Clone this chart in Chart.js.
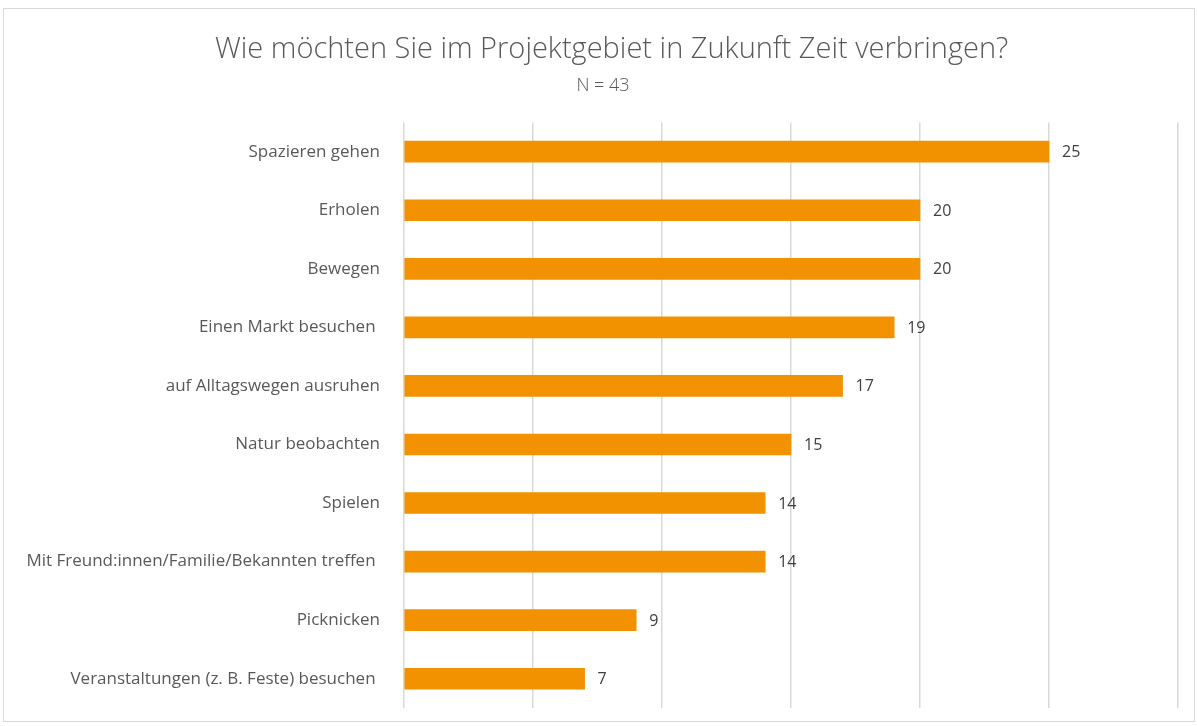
<!DOCTYPE html>
<html>
<head>
<meta charset="utf-8">
<script src="https://cdn.jsdelivr.net/npm/chart.js@4"></script>
<style>
  html, body { margin: 0; padding: 0; background: #fff; }
  #wrap { position: relative; width: 1197px; height: 726px; }
  #frame { position: absolute; left: 3px; top: 8px; width: 1190px; height: 712px; border: 1px solid #d9d9d9; pointer-events: none; }
</style>
</head>
<body>
<div id="wrap">
  <canvas id="chart" width="1197" height="726"></canvas>
  <div id="frame"></div>
</div>
<script>
// data
const categories = [
  "Spazieren gehen",
  "Erholen",
  "Bewegen",
  "Einen Markt besuchen ",
  "auf Alltagswegen ausruhen",
  "Natur beobachten",
  "Spielen",
  "Mit Freund:innen/Familie/Bekannten treffen ",
  "Picknicken",
  "Veranstaltungen (z. B. Feste) besuchen "
];
const counts = [25, 20, 20, 19, 17, 15, 14, 14, 9, 7];
const titleText = "      Wie möchten Sie im Projektgebiet in Zukunft Zeit verbringen?";
const subtitleText = "      N = 43";

// value labels at the end of each bar
const valueLabels = {
  id: "valueLabels",
  afterDatasetsDraw(chart) {
    const ctx = chart.ctx;
    const meta = chart.getDatasetMeta(0);
    ctx.save();
    ctx.font = "16px 'Open Sans'";
    ctx.fillStyle = "#404040";
    ctx.textAlign = "left";
    ctx.textBaseline = "middle";
    meta.data.forEach((bar, i) => {
      ctx.fillText(String(counts[i]), bar.x + 13, bar.y + 1);
    });
    ctx.restore();
  }
};

new Chart(document.getElementById("chart").getContext("2d"), {
  type: "bar",
  data: {
    labels: categories,
    datasets: [{
      data: counts,
      backgroundColor: "#F39200",
      barThickness: 21
    }]
  },
  options: {
    indexAxis: "y",
    responsive: false,
    animation: false,
    layout: { padding: { top: 32, right: 19, bottom: 18, left: 0 } },
    plugins: {
      legend: { display: false },
      tooltip: { enabled: false },
      title: {
        display: true,
        text: titleText,
        color: "#595959",
        font: { family: "'Open Sans'", size: 29, weight: 300 },
        padding: { top: 0, bottom: 8 }
      },
      subtitle: {
        display: true,
        text: subtitleText,
        color: "#595959",
        font: { family: "'Open Sans'", size: 18, weight: 300 },
        padding: { top: 0, bottom: 26 }
      }
    },
    scales: {
      x: {
        min: 0,
        max: 30,
        ticks: { display: false, stepSize: 5 },
        grid: { color: "#d9d9d9", lineWidth: 1.5, drawTicks: false },
        border: { display: false },
        afterFit(scale) { scale.height = 0; }
      },
      y: {
        grid: { display: false },
        border: { display: false },
        ticks: {
          color: "#595959",
          font: { family: "'Open Sans'", size: 17 },
          padding: 16
        },
        afterFit(scale) {
          scale.width = 404;
          scale.paddingTop = 0;
          scale.paddingBottom = 0;
        }
      }
    }
  },
  plugins: [valueLabels]
});
</script>
</body>
</html>
